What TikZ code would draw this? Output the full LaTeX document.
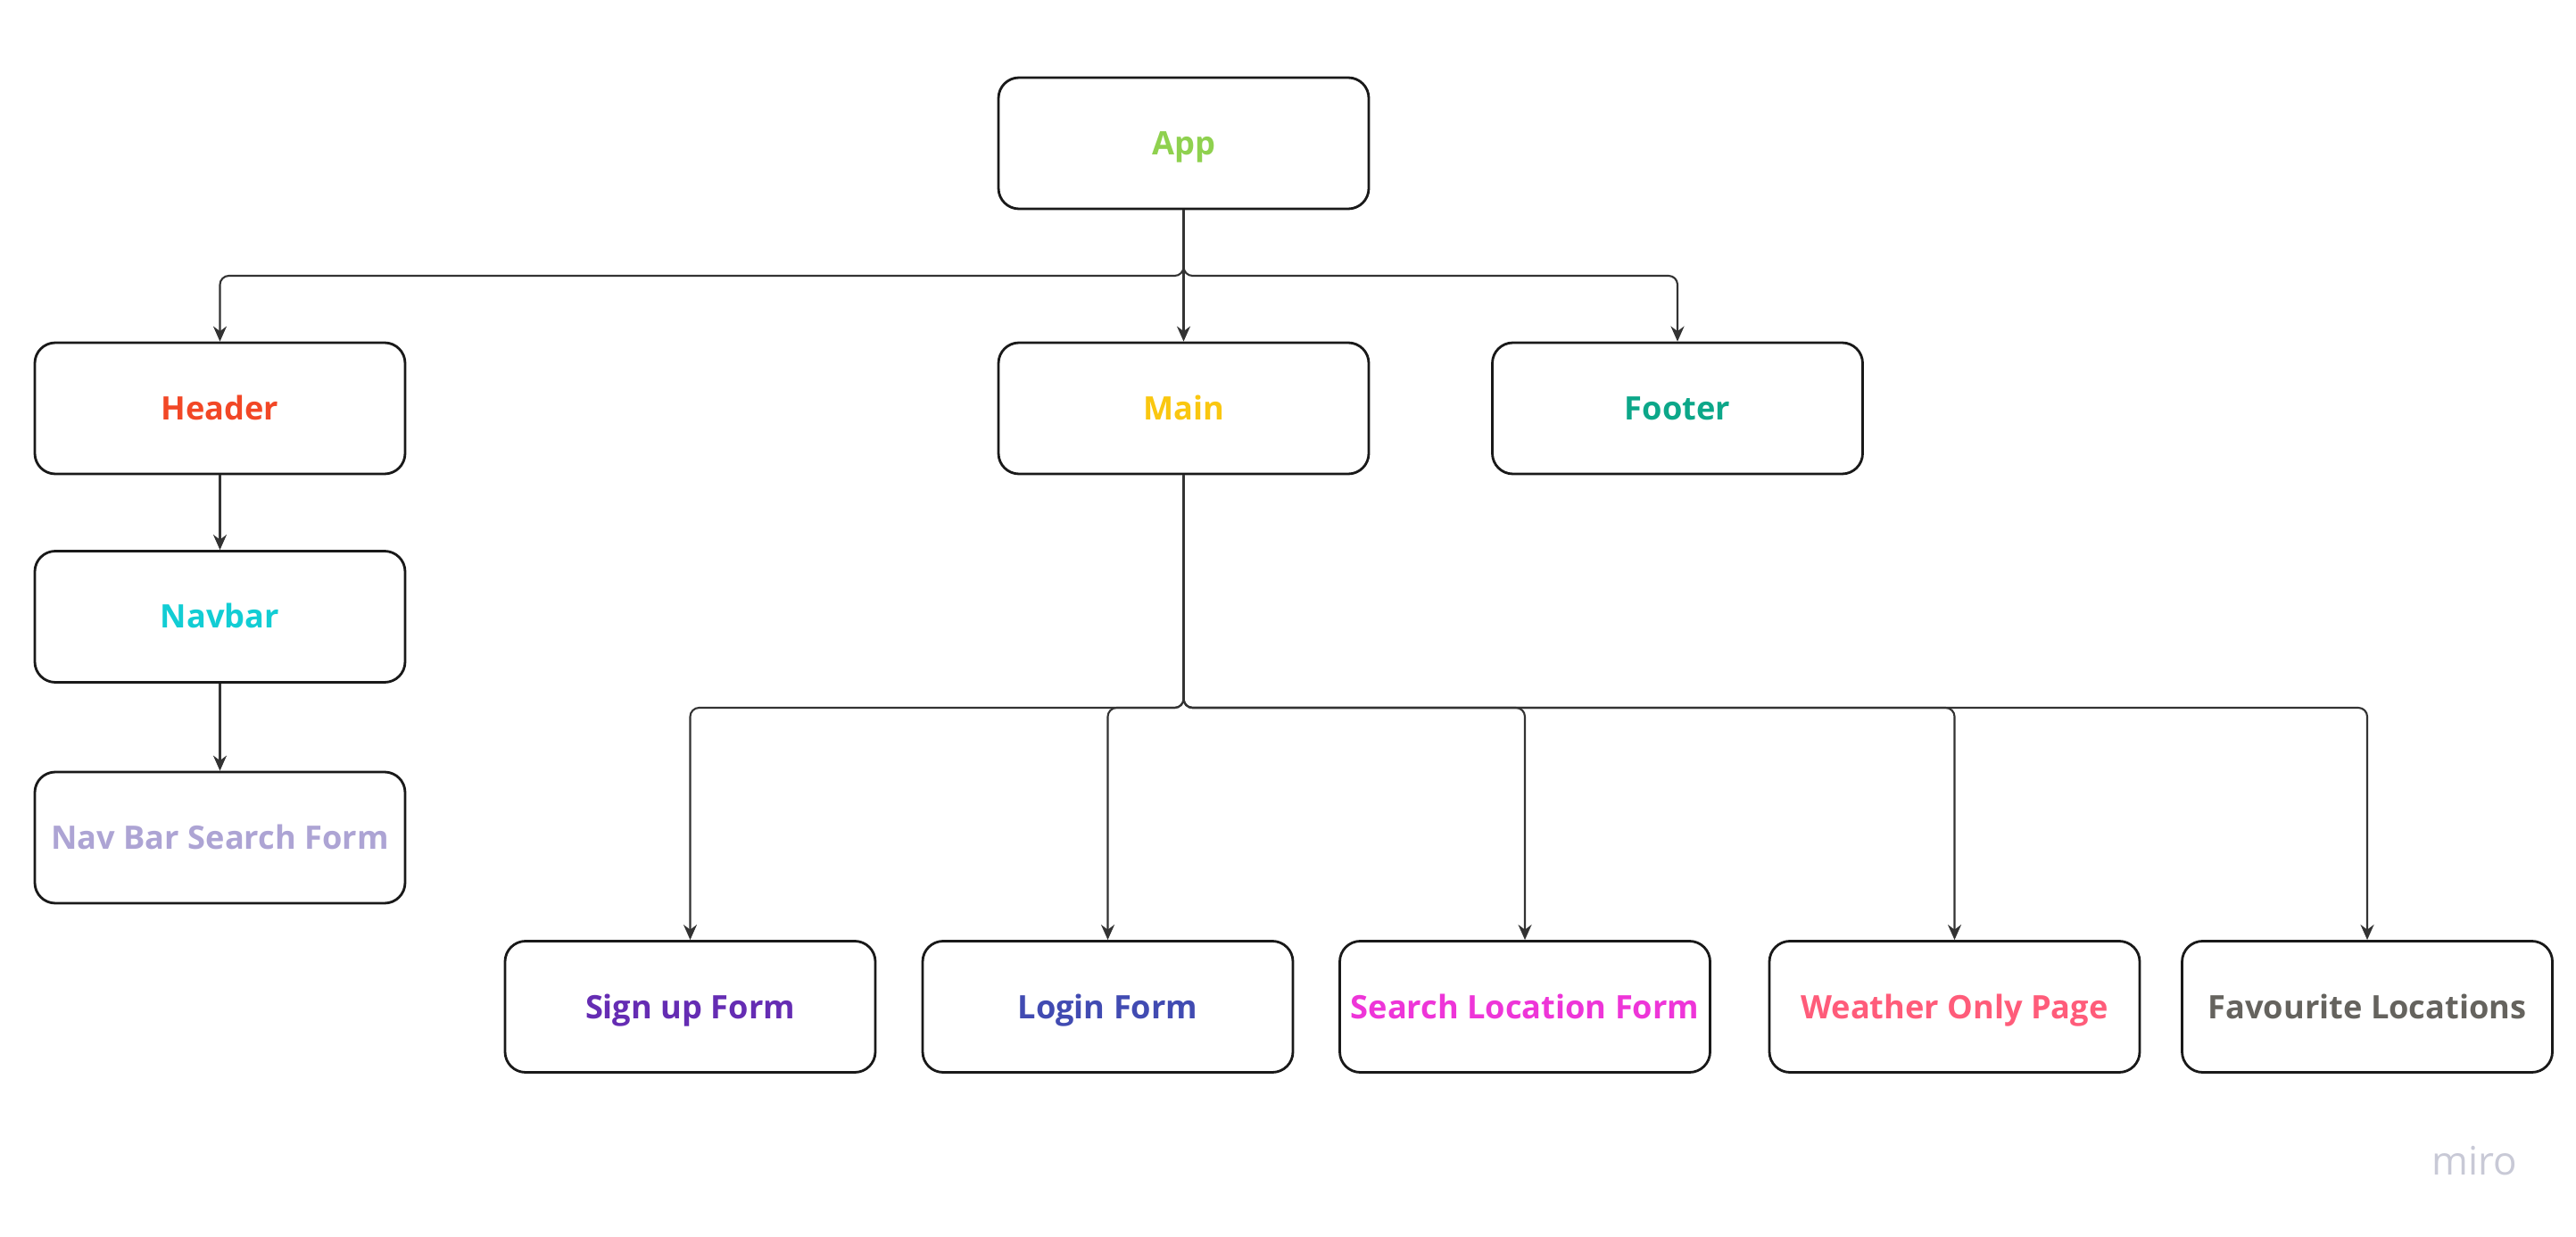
\documentclass[tikz,border=0pt]{standalone}
\usepackage{fontspec}
\setmainfont{Open Sans}
\usepackage{tikz}
\usepackage{xcolor}
\usetikzlibrary{arrows.meta}

\definecolor{appgreen}{HTML}{8FD14F}
\definecolor{headerred}{HTML}{F24726}
\definecolor{mainyellow}{HTML}{FAC710}
\definecolor{footerteal}{HTML}{0CA789}
\definecolor{navcyan}{HTML}{12CDD4}
\definecolor{searchlav}{HTML}{ADA4D4}
\definecolor{signpurple}{HTML}{652CB3}
\definecolor{loginblue}{HTML}{414BB2}
\definecolor{locmagenta}{HTML}{EE35D8}
\definecolor{weatherpink}{HTML}{FF5C7A}
\definecolor{favgray}{HTML}{65635E}
\definecolor{linegray}{HTML}{333333}
\definecolor{mirogray}{HTML}{C8C9D6}

\begin{document}
\begin{tikzpicture}[
		box/.style={draw=black!90, line width=0.8pt, rounded corners=0.23cm, fill=white,
			minimum width=4.15cm, minimum height=1.47cm, inner sep=0pt,
			text height=0.26cm, text depth=0cm,
			font=\fontsize{10.3}{12}\selectfont\bfseries},
		link/.style={draw=linegray, line width=0.6pt, rounded corners=0.1cm,
			-{Stealth[length=0.17cm, width=0.15cm]}}
	]
				\useasboundingbox (0,0) rectangle (28.87,13.85);
				
				% Top level
				\node[box, text=appgreen] (app) at (13.265,12.245) {App};
				
				% Second level
				\node[box, text=headerred] (header) at (2.465,9.275) {Header};
				\node[box, text=mainyellow] (main) at (13.265,9.275) {Main};
				\node[box, text=footerteal] (footer) at (18.80,9.275) {Footer};
				
				% Header children
				\node[box, text=navcyan] (navbar) at (2.465,6.94) {Navbar};
				\node[box, text=searchlav] (navsearch) at (2.465,4.465) {Nav Bar Search Form};
				
				% Main children
				\node[box, text=signpurple] (signup) at (7.735,2.57) {Sign up Form};
				\node[box, text=loginblue] (login) at (12.415,2.57) {Login Form};
				\node[box, text=locmagenta] (searchloc) at (17.09,2.57) {Search Location Form};
				\node[box, text=weatherpink] (weather) at (21.905,2.57) {Weather Only Page};
				\node[box, text=favgray] (favourite) at (26.53,2.57) {Favourite Locations};
				
				% Branch levels
				\coordinate (topfork) at (13.265,10.76);
				\coordinate (mainfork) at (13.265,5.92);
				
				% App to second level
				\draw[link] (app.south) -- (topfork) -- (topfork -| header.north) -- (header.north);
				\draw[link] (app.south) -- (main.north);
				\draw[link] (app.south) -- (topfork) -- (topfork -| footer.north) -- (footer.north);
				
				% Header chain
				\draw[link] (header.south) -- (navbar.north);
				\draw[link] (navbar.south) -- (navsearch.north);
				
				% Main to bottom row
				\foreach \kid in {signup, login, searchloc, weather, favourite}
					\draw[link] (main.south) -- (mainfork) -- (mainfork -| \kid.north) -- (\kid.north);
				
				% Watermark
				\node[text=mirogray, font=\fontsize{12.5}{14}\selectfont] (miro) at (27.73,0.84) {miro};
			\end{tikzpicture}
\end{document}
